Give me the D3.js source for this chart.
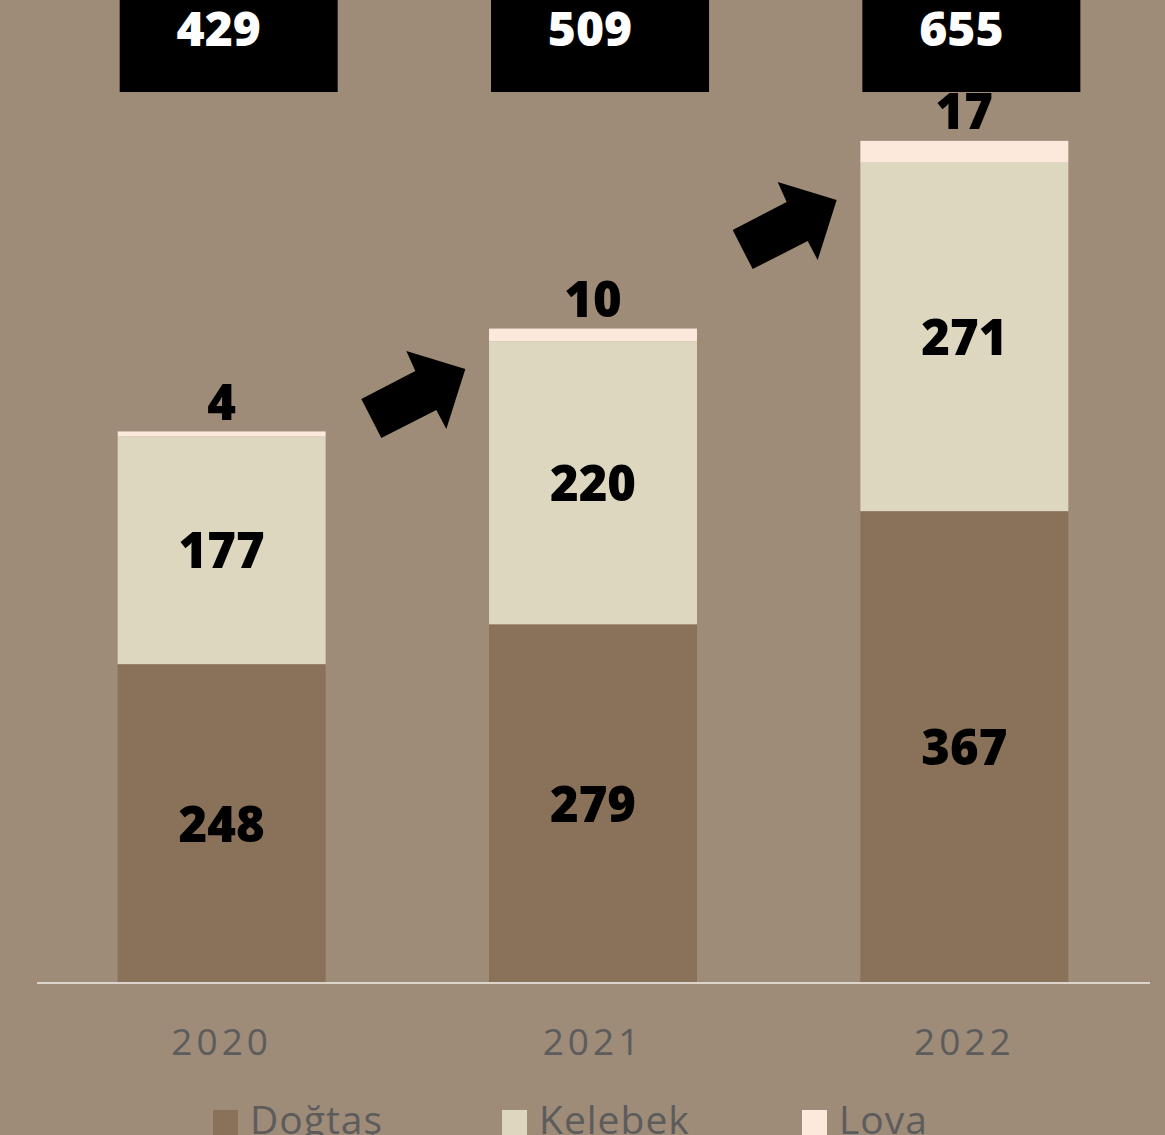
<!DOCTYPE html>
<head>
<meta charset="utf-8">
<title>Stacked bars</title>
<script src="https://cdn.jsdelivr.net/npm/d3@7"></script>
<style>
  html, body { margin: 0; padding: 0; background: #9e8b78; overflow: hidden; }
</style>
</head>
<body>
<div id="chart"></div>
<script>
// data
var years = ["2020", "2021", "2022"];
var dogtas = [248, 279, 367];
var kelebek = [177, 220, 271];
var lova = [4, 10, 17];
var totals = [429, 509, 655];
var seriesNames = ["Doğtaş", "Kelebek", "Lova"];
var seriesColors = ["#8a7159", "#ddd7c0", "#fde9dc"];

var width = 1165, height = 1135;

var svg = d3.select("#chart")
  .append("svg")
    .attr("width", width)
    .attr("height", height);

// scales
var xScale = d3.scaleBand()
    .domain(years)
    .range([36, 1150])
    .paddingInner(0.44)
    .paddingOuter(0.22);

var yScale = d3.scaleLinear()
    .domain([0, 700])
    .range([983, 83]);

// build table for stack
var table = years.map(function(y, i) {
  return { year: y, "Doğtaş": dogtas[i], "Kelebek": kelebek[i], "Lova": lova[i] };
});
var stacked = d3.stack().keys(seriesNames)(table);

// bars
stacked.forEach(function(layer, k) {
  svg.append("g")
    .selectAll("rect")
    .data(layer)
    .enter().append("rect")
      .attr("x", function(d) { return xScale(d.data.year); })
      .attr("y", function(d) { return yScale(d[1]); })
      .attr("width", xScale.bandwidth())
      .attr("height", function(d) { return yScale(d[0]) - yScale(d[1]); })
      .attr("fill", seriesColors[k]);
});

// labels inside Doğtaş & Kelebek
[0, 1].forEach(function(k) {
  svg.append("g")
    .selectAll("text")
    .data(stacked[k])
    .enter().append("text")
      .attr("x", function(d) { return xScale(d.data.year) + xScale.bandwidth() / 2; })
      .attr("y", function(d) { return (yScale(d[0]) + yScale(d[1])) / 2 + 5; })
      .attr("text-anchor", "middle")
      .attr("dominant-baseline", "middle")
      .style("font-family", "Open Sans")
      .style("font-weight", 800)
      .style("font-size", "49px")
      .style("fill", "#000")
      .text(function(d) { return d[1] - d[0]; });
});

// Lova labels above bar
svg.append("g")
  .selectAll("text")
  .data(stacked[2])
  .enter().append("text")
    .attr("x", function(d) { return xScale(d.data.year) + xScale.bandwidth() / 2; })
    .attr("y", function(d) { return yScale(d[1]) - 25; })
    .attr("text-anchor", "middle")
    .attr("dominant-baseline", "middle")
    .style("font-family", "Open Sans")
    .style("font-weight", 800)
    .style("font-size", "49px")
    .style("fill", "#000")
    .text(function(d) { return d[1] - d[0]; });

// total boxes at top
var boxW = 218;
svg.append("g")
  .selectAll("rect")
  .data(years)
  .enter().append("rect")
    .attr("x", function(d) { return xScale(d) + 2; })
    .attr("y", -10)
    .attr("width", boxW)
    .attr("height", 102)
    .attr("fill", "#000");

svg.append("g")
  .selectAll("text")
  .data(years)
  .enter().append("text")
    .attr("x", function(d) { return xScale(d) + 2 + boxW / 2 - 10; })
    .attr("y", 46)
    .attr("text-anchor", "middle")
    .style("font-family", "Open Sans")
    .style("font-weight", 800)
    .style("font-size", "48px")
    .style("fill", "#fff")
    .text(function(d, i) { return totals[i]; });

// arrows between bars
var arrowShape = [[-52, 5], [-32, 44], [23, 16], [33, 35], [52, -25], [-7, -43], [2, -23]];
for (var i = 0; i < years.length - 1; i++) {
  var cx = (xScale(years[i]) + xScale.bandwidth() + xScale(years[i + 1])) / 2 + 6;
  var cy = yScale(totals[i + 1] * 0.9);
  svg.append("polygon")
    .attr("points", arrowShape.map(function(p) { return (cx + p[0]) + "," + (cy + p[1]); }).join(" "))
    .attr("fill", "#000");
}

// baseline
svg.append("line")
  .attr("x1", 37)
  .attr("x2", 1150)
  .attr("y1", yScale(0))
  .attr("y2", yScale(0))
  .attr("stroke", "#ddd5cc")
  .attr("stroke-width", 2);

// x axis labels
var xAxis = d3.axisBottom(xScale).tickSize(0).tickPadding(0);
var gx = svg.append("g")
  .attr("transform", "translate(0," + 1042 + ")")
  .call(xAxis);
gx.select(".domain").remove();
gx.selectAll("text")
  .attr("dy", "0.35em")
  .style("font-family", "Open Sans")
  .style("font-weight", 400)
  .style("font-size", "37px")
  .style("letter-spacing", "4px")
  .style("fill", "#5c5c5c");

// legend
var legendX = [213, 502, 802];
var legend = svg.append("g")
  .selectAll("g")
  .data(seriesNames)
  .enter().append("g")
    .attr("transform", function(d, i) { return "translate(" + legendX[i] + ",1110)"; });

legend.append("rect")
  .attr("width", 25)
  .attr("height", 25)
  .attr("fill", function(d, i) { return seriesColors[i]; });

legend.append("text")
  .attr("x", 37)
  .attr("y", 24)
  .style("font-family", "Open Sans")
  .style("font-size", "39px")
  .style("letter-spacing", "1px")
  .style("fill", "#5c5c5c")
  .text(function(d) { return d; });
</script>
</body>
